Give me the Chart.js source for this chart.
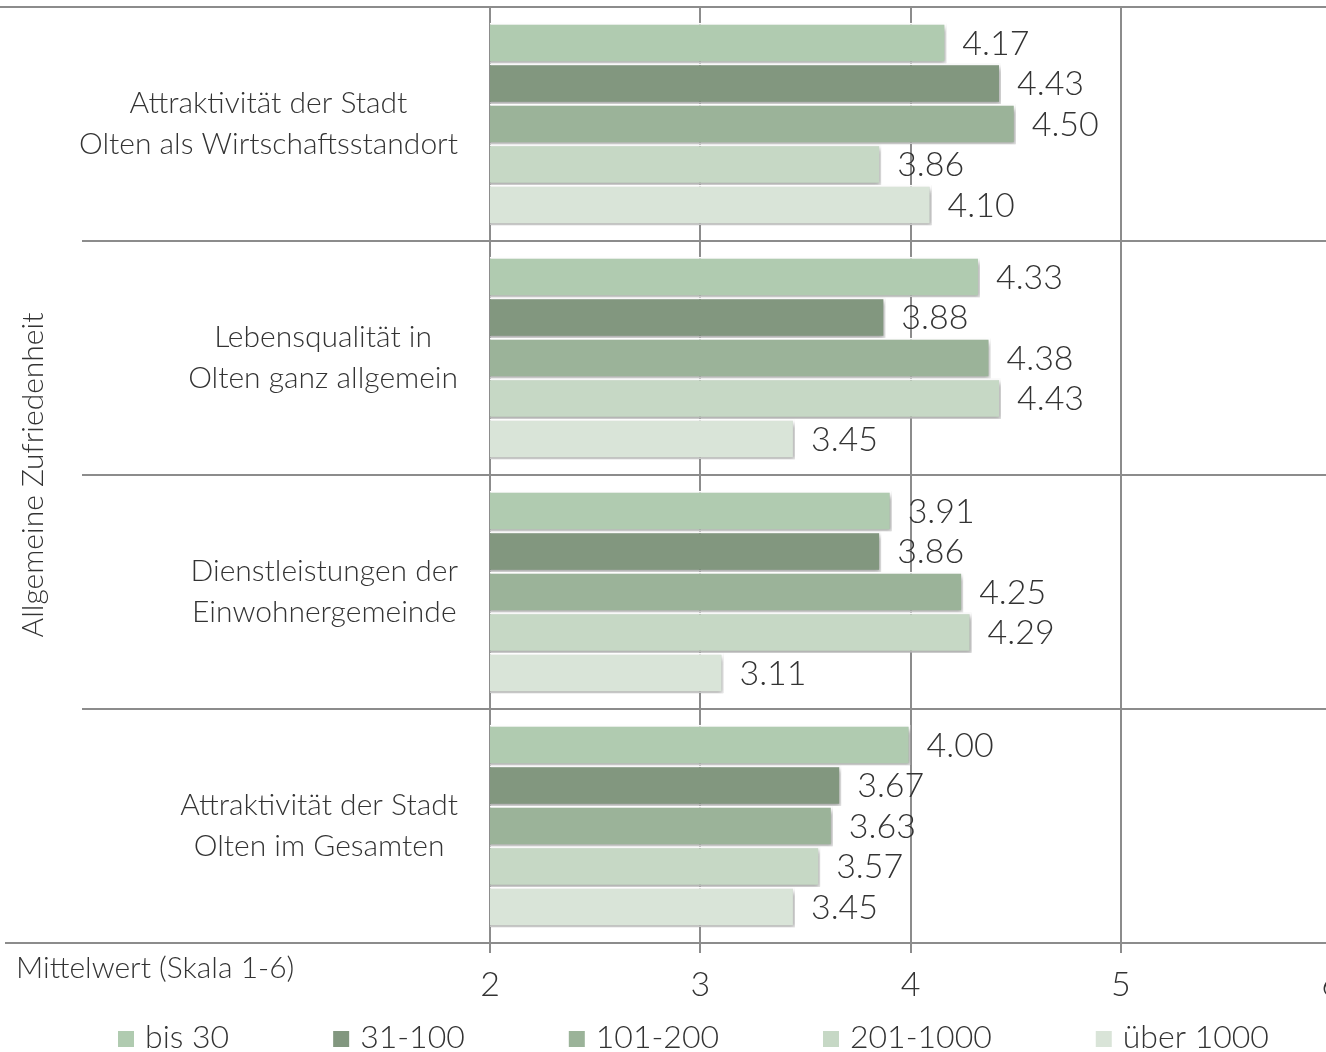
<!DOCTYPE html>
<html>
<head>
<meta charset="utf-8">
<script src="https://cdn.jsdelivr.net/npm/chart.js"></script>
<style>
  html, body { margin: 0; padding: 0; background: #fff; overflow: hidden; }
  #wrap { width: 1353px; height: 1052px; }
</style>
</head>
<body>
<div id="wrap"><canvas id="myChart" width="1353" height="1052"></canvas></div>
<script>
// --- data ---
const categories = [
  ["Attraktivität der Stadt", "Olten als Wirtschaftsstandort"],
  ["Lebensqualität in", "Olten ganz allgemein"],
  ["Dienstleistungen der", "Einwohnergemeinde"],
  ["Attraktivität der Stadt", "Olten im Gesamten"]
];
const seriesNames = ["bis 30", "31-100", "101-200", "201-1000", "über 1000"];
const bis30 = [4.17, 4.33, 3.91, 4.00];
const s31to100 = [4.43, 3.88, 3.86, 3.67];
const s101to200 = [4.50, 4.38, 4.25, 3.63];
const s201to1000 = [3.86, 4.43, 4.29, 3.57];
const ueber1000 = [4.10, 3.45, 3.11, 3.45];
const xMin = 2;
const xMax = 6;
const yTitle = "Allgemeine Zufriedenheit";
const xTitle = "Mittelwert (Skala 1-6)";

const colors = ['#b0cbb0', '#82977f', '#9bb399', '#c6d8c5', '#d9e4d8'];
const gridColor = '#8c8c8c';
const textColor = '#333333';
const fontFamily = "Lato, 'Open Sans', sans-serif";
const fontSize = 30;
const valueSize = 34;
const legendSize = 32;

const seriesValues = [bis30, s31to100, s101to200, s201to1000, ueber1000];

const datasets = seriesNames.map((name, i) => ({
  label: name,
  data: seriesValues[i],
  backgroundColor: colors[i],
  borderColor: '#ffffff',
  borderWidth: 2,
  borderSkipped: 'start',
  barPercentage: 1,
  categoryPercentage: 0.865
}));

function font(size) {
  return '300 ' + size + 'px ' + fontFamily;
}

const decor = {
  id: 'decor',
  beforeDatasetsDraw(chart) {
    const ctx = chart.ctx;
    const y = chart.scales.y;
    ctx.save();
    ctx.strokeStyle = gridColor;
    ctx.lineWidth = 2;
    for (let k = 0; k <= categories.length; k++) {
      const py = Math.round(y.getPixelForValue(k - 0.5));
      const x0 = (k === 0) ? 0 : (k === categories.length ? 5 : 82);
      ctx.beginPath();
      ctx.moveTo(x0, py);
      ctx.lineTo(chart.width, py);
      ctx.stroke();
    }
    ctx.restore();
    // soft drop shadow under the bars
    ctx.save();
    ctx.shadowColor = 'rgba(0,0,0,0.35)';
    ctx.shadowBlur = 5;
    ctx.shadowOffsetX = 2;
    ctx.shadowOffsetY = 3;
  },
  afterDatasetsDraw(chart) {
    const ctx = chart.ctx;
    ctx.restore();
    ctx.save();
    ctx.font = font(valueSize);
    ctx.fillStyle = textColor;
    ctx.textAlign = 'left';
    ctx.textBaseline = 'middle';
    chart.data.datasets.forEach((ds, i) => {
      const meta = chart.getDatasetMeta(i);
      meta.data.forEach((bar, j) => {
        ctx.fillText(ds.data[j].toFixed(2), bar.x + 16, bar.y + 1);
      });
    });
    ctx.restore();
  },
  afterDraw(chart) {
    const ctx = chart.ctx;
    const y = chart.scales.y;
    ctx.save();
    ctx.font = font(fontSize);
    ctx.fillStyle = textColor;
    ctx.textBaseline = 'middle';
    // category labels: centred lines, block right-aligned
    const lineH = 41;
    categories.forEach((lines, i) => {
      const cy = y.getPixelForValue(i);
      const maxW = Math.max(...lines.map(l => ctx.measureText(l).width));
      const cx = 458 - maxW / 2;
      ctx.textAlign = 'center';
      lines.forEach((l, k) => {
        ctx.fillText(l, cx, cy + (k - (lines.length - 1) / 2) * lineH);
      });
    });
    // x axis caption
    ctx.textAlign = 'left';
    ctx.fillText(xTitle, 16, 968);
    // legend
    ctx.font = font(legendSize);
    let lx = 118;
    const ly = 1038;
    chart.data.datasets.forEach((ds) => {
      ctx.fillStyle = ds.backgroundColor;
      ctx.fillRect(lx, ly - 7, 16, 16);
      ctx.fillStyle = textColor;
      ctx.fillText(ds.label, lx + 27, ly);
      lx += 27 + ctx.measureText(ds.label).width + 104;
    });
    ctx.restore();
  }
};

const ctx = document.getElementById('myChart');

new Chart(ctx, {
  type: 'bar',
  data: { labels: categories, datasets: datasets },
  options: {
    indexAxis: 'y',
    responsive: false,
    animation: false,
    layout: { padding: { top: 7, right: 0, left: 0, bottom: 0 } },
    plugins: {
      legend: { display: false },
      tooltip: { enabled: false }
    },
    scales: {
      x: {
        min: xMin,
        max: xMax,
        ticks: {
          stepSize: 1,
          color: textColor,
          padding: 12,
          font: { family: fontFamily, size: valueSize, weight: 300 }
        },
        grid: { color: gridColor, lineWidth: 2, tickLength: 10, drawTicks: true },
        border: { color: gridColor, width: 2 },
        afterFit(scale) { scale.height = 109; }
      },
      y: {
        ticks: { display: false },
        grid: { display: false },
        border: { display: true, color: gridColor, width: 2 },
        title: {
          display: true,
          text: yTitle,
          color: textColor,
          padding: { top: 15, bottom: 0 },
          font: { family: fontFamily, size: fontSize, weight: 300 }
        },
        afterFit(scale) { scale.width = 490; }
      }
    }
  },
  plugins: [decor]
});
</script>
</body>
</html>
